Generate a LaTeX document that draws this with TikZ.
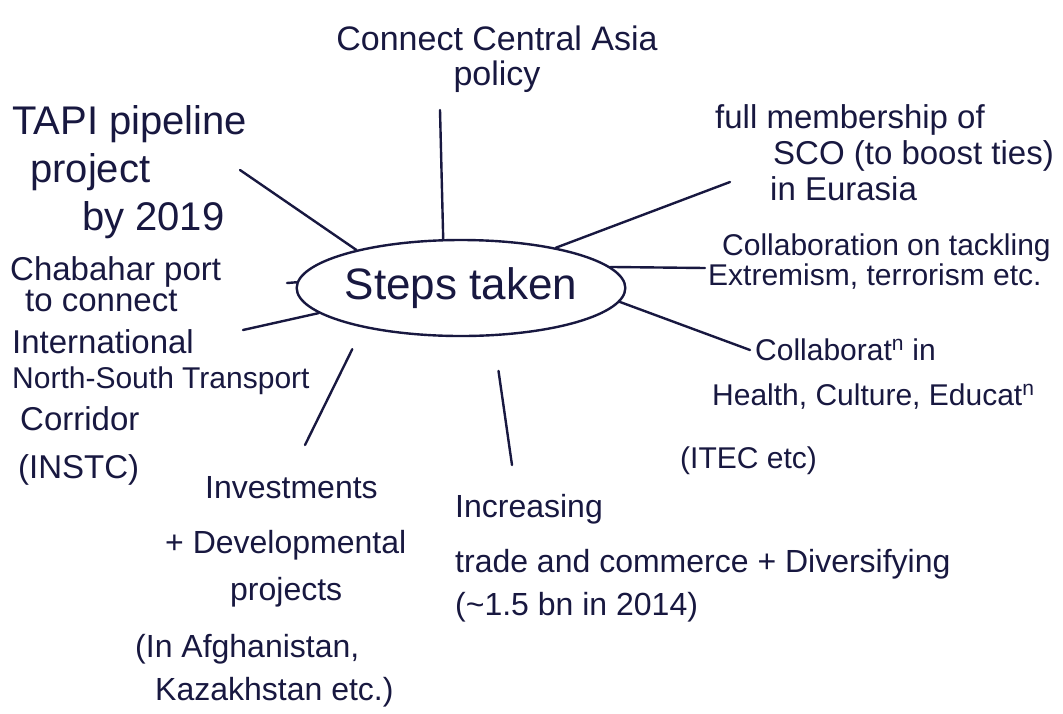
\documentclass[tikz,border=0pt]{standalone}
\usepackage{fontspec}
\setmainfont{Liberation Sans}
\usetikzlibrary{shapes.geometric}
\definecolor{ink}{RGB}{24,24,64}
\begin{document}
\begin{tikzpicture}[x=1pt,y=-1pt,
  inkline/.style={draw=ink, line width=2.4pt, line cap=round},
  leaf/.style={text=ink, inner sep=0pt, anchor=base west, align=left},
]
\useasboundingbox[fill=white] (0,0) rectangle (1063,713);

% central idea
\node[ellipse, draw=ink, line width=2.4pt, minimum width=312pt, minimum height=96pt,
      inner sep=0pt, text=ink, font=\fontsize{44}{50}\selectfont] (hub) at (461,288) {Steps taken};

% branches (each placed by the baseline of its last line)
\node[text=ink, inner sep=0pt, anchor=base, align=center, font=\fontsize{34}{35}\selectfont]
  (cca) at (497,85) {Connect Central Asia\\policy};

\node[leaf, font=\fontsize{40}{48}\selectfont] (tapi) at (12,230)
  {TAPI pipeline\\\hspace*{18pt}project\\\hspace*{70pt}by 2019};

\node[leaf, font=\fontsize{33}{40}\selectfont] (chab) at (10,478)
  {Chabahar port\\[-9pt]\hspace*{15pt}to connect\\[2pt]\hspace*{2pt}International\\[-5pt]%
   \hspace*{2pt}{\fontsize{30}{40}\selectfont North-South Transport}\\[2pt]%
   \hspace*{10pt}Corridor\\[8pt]\hspace*{8pt}(INSTC)};

\node[leaf, font=\fontsize{32}{50}\selectfont] (inv) at (135,700)
  {\hspace*{70pt}Investments\\[5pt]\hspace*{30pt}+ Developmental\\[-3pt]%
   \hspace*{95pt}projects\\[7pt](In Afghanistan,\\[-7pt]\hspace*{20pt}Kazakhstan etc.)};

\node[leaf, font=\fontsize{32}{48}\selectfont] (trade) at (455,615)
  {Increasing\\[7pt]trade and commerce + Diversifying\\[-5pt](\textasciitilde1.5 bn in 2014)};

\node[leaf, font=\fontsize{33}{36}\selectfont] (sco) at (715,200)
  {full membership of\\\hspace*{58pt}SCO (to boost ties)\\\hspace*{55pt}in Eurasia};

\node[leaf, font=\fontsize{30}{30}\selectfont] (terr) at (708,285)
  {\hspace*{14pt}Collaboration on tackling\\Extremism, terrorism etc.};

\node[leaf, font=\fontsize{30}{45}\selectfont] (health) at (680,468)
  {\hspace*{75pt}Collaborat\textsuperscript{n} in\\\hspace*{32pt}Health, Culture, Educat\textsuperscript{n}\\[18pt](ITEC etc)};

% free ends of the connectors
\coordinate (ccaEnd) at (440,110);
\coordinate (tapiEnd) at (240,170);
\coordinate (chabEnd) at (287,283);
\coordinate (nstcEnd) at (243,330);
\coordinate (invEnd) at (305,445);
\coordinate (tradeEnd) at (512,465);
\coordinate (scoEnd) at (730,182);
\coordinate (terrEnd) at (705,268);
\coordinate (healthEnd) at (750,350);

% connectors
\draw[inkline] (hub.110) -- (ccaEnd);
\draw[inkline] (hub.160) -- (tapiEnd);
\draw[inkline] (hub.178) -- (chabEnd);
\draw[inkline] (hub.190) -- (nstcEnd);
\draw[inkline, shorten <=24pt] (hub.202) -- (invEnd);
\draw[inkline, shorten <=35pt] (hub.-56) -- (tradeEnd);
\draw[inkline] (hub.23) -- (scoEnd);
\draw[inkline] (hub.8) -- (terrEnd);
\draw[inkline] (hub.-5) -- (healthEnd);
\end{tikzpicture}
\end{document}
